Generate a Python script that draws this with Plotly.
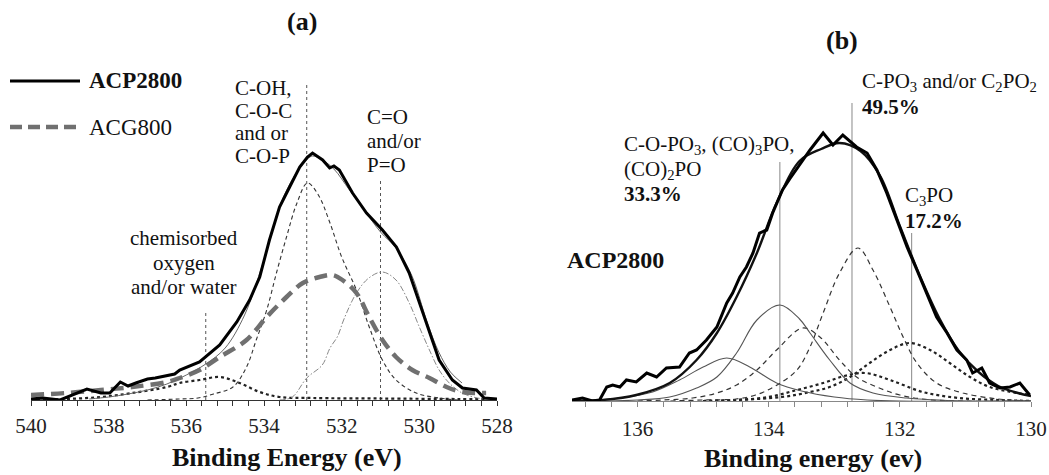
import plotly.graph_objects as go

W, H = 1049, 475
FONT = "Liberation Serif"

# ---------------- Panel (a): O1s ----------------
acp_E = [540.0, 539.7, 539.25, 538.8, 538.56, 538.2, 537.97, 537.7, 537.5, 537.3, 537.0, 536.8, 536.5, 536.3,
         536.17, 535.66, 535.14, 534.70, 534.37, 534.11, 533.86, 533.60, 533.34, 533.08, 532.88, 532.75,
         532.49, 532.31, 532.2, 532.06, 531.72, 531.36, 530.95, 530.59, 530.26, 530.0, 529.74, 529.49,
         529.15, 528.89, 528.53, 528.33, 528.0]
acp_I = [1, 2, 0, 7, 11, 7, 7, 18, 14, 17, 21, 22, 24, 26,
         30, 38, 55, 78, 100, 123, 160, 193, 213, 233, 243, 247,
         240, 232, 234, 230, 207, 187, 170, 153, 127, 97, 67, 40,
         20, 12, 10, 2, 1]

fit_a_E = [538.5, 538.0, 537.5, 537.0, 536.5, 536.0, 535.5, 535.0, 534.5, 534.0, 533.5, 533.0, 532.75,
           532.5, 532.2, 531.8, 531.4, 531.0, 530.6, 530.2, 529.8, 529.5, 529.2, 528.9]
fit_a_I = [1, 3, 6, 10, 16, 25, 36, 52, 85, 140, 203, 236, 244,
           240, 231, 210, 189, 168, 152, 125, 78, 48, 28, 17]

coh_E = [537.0, 536.2, 535.7, 535.3, 534.8, 534.45, 534.2, 533.93, 533.68, 533.42, 533.16, 532.88,
         532.6, 532.31, 532.0, 531.62, 531.29, 530.95, 530.6, 530.08, 529.5, 529.0]
coh_I = [0, 1, 2, 6, 13, 33, 60, 90, 127, 163, 196, 217,
         205, 178, 143, 110, 73, 40, 20, 7, 2, 0]

co_E = [533.6, 533.27, 532.9, 532.5, 532.3, 532.1, 531.95, 531.62, 531.3, 530.95, 530.6, 530.26,
        530.0, 529.74, 529.49, 529.23, 528.9, 528.5, 528.2]
co_I = [0, 3, 22, 35, 52, 64, 80, 107, 122, 128, 120, 97,
        73, 50, 30, 17, 7, 2, 1]

chem_E = [540.0, 539.1, 538.2, 537.4, 536.5, 536.17, 535.66, 535.14, 534.63, 534.11, 533.6, 532.75,
          531.0, 529.0, 528.3]
chem_I = [0, 1, 3, 7, 13, 17, 20, 23, 17, 8, 3, 2, 1.5, 1, 1]

acg_E = [540.0, 539.1, 538.2, 537.4, 536.5, 536.17, 535.66, 535.14, 534.45, 533.93, 533.42, 533.0,
         532.57, 532.24, 531.98, 531.62, 531.29, 530.95, 530.6, 530.18, 529.74, 529.3, 528.9, 528.28]
acg_I = [5, 7, 10, 13, 18, 22, 30, 43, 60, 83, 103, 117,
         123, 125, 120, 107, 83, 60, 43, 30, 22, 13, 8, 7]

mark_a_E = [535.5, 532.9, 531.0]
mark_a_top = [88, 318, 222]

# ---------------- Panel (b): P2p ----------------
exp_b_E = [137.0, 136.84, 136.69, 136.58, 136.47, 136.38, 136.27, 136.17, 136.02, 135.86, 135.71, 135.56,
           135.36, 135.21, 135.10, 134.95, 134.79, 134.64, 134.55, 134.44, 134.34, 134.24, 134.14, 134.03,
           133.94, 133.79, 133.68, 133.53, 133.37, 133.17, 133.02, 132.87, 132.66, 132.5, 132.35, 132.2,
           132.05, 131.89, 131.74, 131.59, 131.44, 131.28, 131.13, 130.98, 130.89, 130.75, 130.63, 130.47,
           130.32, 130.17, 130.02]
exp_b_I = [1, 3, 0, 1, 14, 16, 14, 21, 19, 28, 24, 33,
           34, 48, 51, 61, 74, 98, 108, 124, 134, 148, 168, 171,
           188, 211, 222, 236, 251, 268, 256, 266, 254, 248, 231, 208,
           181, 154, 131, 108, 84, 68, 51, 41, 28, 33, 18, 13,
           14, 18, 6]

fit_b_E = [137.0, 136.53, 136.02, 135.51, 135.10, 134.79, 134.49, 134.18, 133.88, 133.53, 133.2, 132.92,
           132.6, 132.3, 132.0, 131.7, 131.4, 131.1, 130.8, 130.5, 130.2, 130.0]
fit_b_I = [0, 1, 6, 18, 41, 68, 104, 148, 198, 240, 252, 258,
           250, 225, 175, 126, 83, 50, 29, 15, 8, 5]

copo3_a_E = [137.0, 136.27, 135.77, 135.36, 135.0, 134.64, 134.29, 133.88, 133.5, 133.0, 132.5, 132.0, 130.0]
copo3_a_I = [0, 3, 9, 21, 34, 43, 34, 18, 10, 4, 1, 0, 0]
copo3_b_E = [136.5, 136.0, 135.51, 135.10, 134.79, 134.49, 134.18, 133.83, 133.53, 133.37, 133.07, 132.76,
             132.41, 131.9, 131.0, 130.0]
copo3_b_I = [0, 1, 4, 13, 24, 48, 81, 96, 82, 68, 41, 18, 8, 3, 0, 0]

cpo3_a_E = [136.0, 135.6, 135.16, 134.79, 134.49, 134.18, 133.88, 133.48, 133.22, 132.92, 132.66, 132.35,
            132.0, 131.5, 130.0]
cpo3_a_I = [0, 1, 3, 8, 16, 31, 51, 73, 64, 41, 24, 14, 6, 1, 0]
cpo3_b_E = [135.5, 135.0, 134.5, 134.2, 133.9, 133.57, 133.37, 133.17, 132.92, 132.64, 132.41, 132.15,
            131.95, 131.74, 131.44, 131.04, 130.5, 130.0]
cpo3_b_I = [0, 1, 2, 6, 15, 31, 54, 88, 128, 153, 131, 94, 64, 38, 18, 8, 2, 0]

c3po_a_E = [135.0, 134.5, 134.0, 133.57, 133.17, 132.85, 132.53, 132.15, 131.65, 131.1, 130.5, 130.0]
c3po_a_I = [0, 1, 4, 11, 18, 25, 28, 21, 9, 3, 1, 0]
c3po_b_E = [135.0, 134.5, 133.8, 133.37, 133.07, 132.76, 132.46, 132.15, 131.85, 131.54, 131.24, 130.93,
            130.63, 130.21, 130.0]
c3po_b_I = [0, 1, 4, 9, 14, 24, 38, 51, 58, 51, 38, 24, 14, 8, 6]

mark_b_E = [133.83, 132.73, 131.82]
mark_b_top = [239, 298, 168]


def px(x):
    return x / W


def py(y):
    return 1 - y / H


fig = go.Figure()


def add(x, y, xa, ya, color, width, dash="solid", shape="linear"):
    fig.add_trace(go.Scatter(x=x, y=y, xaxis=xa, yaxis=ya, mode="lines", showlegend=False,
                             line=dict(color=color, width=width, dash=dash, shape=shape),
                             hoverinfo="skip"))


# panel a traces
for e, t in zip(mark_a_E, mark_a_top):
    add([e, e], [0, t], "x", "y", "#555555", 1, "dot")
add(chem_E, chem_I, "x", "y", "#222222", 2.2, "dot", "spline")
add(co_E, co_I, "x", "y", "#888888", 1, "6px,2px,1.5px,2px", "spline")
add(coh_E, coh_I, "x", "y", "#333333", 1.1, "4px,3px", "spline")
add(acg_E, acg_I, "x", "y", "#707070", 4.5, "13px,7px", "spline")
add(fit_a_E, fit_a_I, "x", "y", "#666666", 1, "solid", "spline")
add(acp_E, acp_I, "x", "y", "#000000", 3)

# panel b traces
for e, t in zip(mark_b_E, mark_b_top):
    add([e, e], [0, t], "x2", "y2", "#888888", 1)
add(c3po_a_E, c3po_a_I, "x2", "y2", "#222222", 2.2, "dot", "spline")
add(c3po_b_E, c3po_b_I, "x2", "y2", "#222222", 2.2, "dot", "spline")
add(cpo3_a_E, cpo3_a_I, "x2", "y2", "#333333", 1.2, "5px,4px", "spline")
add(cpo3_b_E, cpo3_b_I, "x2", "y2", "#333333", 1.2, "5px,4px", "spline")
add(copo3_a_E, copo3_a_I, "x2", "y2", "#555555", 1.1, "solid", "spline")
add(copo3_b_E, copo3_b_I, "x2", "y2", "#555555", 1.1, "solid", "spline")
add(fit_b_E, fit_b_I, "x2", "y2", "#111111", 2.4, "solid", "spline")
add(exp_b_E, exp_b_I, "x2", "y2", "#000000", 3)

axis_common = dict(showgrid=False, zeroline=False, showline=True, ticks="outside", ticklen=5,
                   automargin=False,
                   tickfont=dict(family=FONT, size=21, color="#222222"), tickmode="linear", dtick=2)

fig.update_layout(
    width=W, height=H, margin=dict(l=0, r=0, t=0, b=0, pad=0, autoexpand=False),
    paper_bgcolor="white", plot_bgcolor="white", showlegend=False,
    xaxis=dict(domain=[px(31), px(497)], range=[540, 528], tick0=528, anchor="y",
               linecolor="#333333", tickcolor="#333333", linewidth=1, ticklabelstandoff=2,
               minor=dict(dtick=0.4, tick0=528, ticks="outside", ticklen=5, tickcolor="#333333"),
               **axis_common),
    yaxis=dict(domain=[1 - 400 / H, 1 - 70 / H], range=[0, 330], visible=False, anchor="x",
               automargin=False),
    xaxis2=dict(domain=[px(572), px(1031)], range=[137, 130], tick0=130, anchor="y2",
                linecolor="#888888", tickcolor="#888888", linewidth=1, ticklabelstandoff=4,
                minor=dict(dtick=0.4, tick0=130, ticks="outside", ticklen=5, tickcolor="#888888"),
                **axis_common),
    yaxis2=dict(domain=[1 - 401 / H, 1 - 71 / H], range=[0, 330], visible=False, anchor="x2",
                automargin=False),
)

ann = []


def text(x, y, s, size=21, anchor="left", bold=False):
    if bold:
        s = "<b>" + s + "</b>"
    ann.append(dict(x=px(x), y=py(y), xref="paper", yref="paper", text=s, showarrow=False,
                    xanchor=anchor, yanchor="middle",
                    font=dict(family=FONT, size=size, color="#111111")))


# titles
text(302, 22, "(a)", 26, "center", True)
text(842, 40, "(b)", 26, "center", True)
text(287, 457, "Binding Energy (eV)", 26, "center", True)
text(813, 458, "Binding energy (ev)", 26, "center", True)

# legend
text(87, 81, "ACP2800", 23, "left", True)
text(87, 127, "ACG800", 23, "left")
fig.add_shape(type="line", xref="paper", yref="paper", x0=px(10), x1=px(80), y0=py(81), y1=py(81),
              line=dict(color="#000000", width=3))
fig.add_shape(type="line", xref="paper", yref="paper", x0=px(10), x1=px(80), y0=py(127), y1=py(127),
              line=dict(color="#707070", width=4.5, dash="12px,6px"))

# panel a labels
for i, s in enumerate(["C-OH,", "C-O-C", "and or", "C-O-P"]):
    text(233, 88 + 22.7 * i, s)
for i, s in enumerate(["C=O", "and/or", "P=O"]):
    text(365, 117 + 24 * i, s)
for i, s in enumerate(["chemisorbed", "oxygen", "and/or water"]):
    text(184, 238 + 24.5 * i, s, anchor="center")

# panel b labels
text(860, 82, "C-PO<sub>3</sub> and/or C<sub>2</sub>PO<sub>2</sub>")
text(860, 107, "49.5%", bold=True)
text(622, 145, "C-O-PO<sub>3</sub>, (CO)<sub>3</sub>PO,")
text(622, 170, "(CO)<sub>2</sub>PO")
text(622, 194, "33.3%", bold=True)
text(903, 196, "C<sub>3</sub>PO")
text(903, 221, "17.2%", bold=True)
text(565, 260, "ACP2800", 24, bold=True)

fig.update_layout(annotations=ann)
fig.write_html("out.html")
